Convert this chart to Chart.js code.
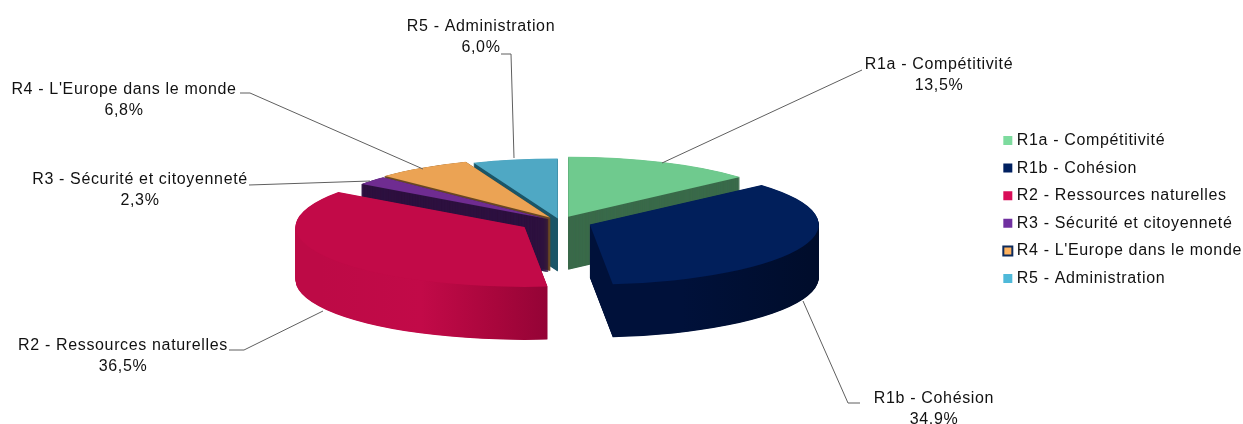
<!DOCTYPE html>
<html>
<head>
<meta charset="utf-8">
<script src="https://cdn.jsdelivr.net/npm/chart.js@4"></script>
<style>
    html, body { margin: 0; padding: 0; background: #fff; }
    #wrap { width: 1243px; height: 424px; }
</style>
</head>
<body>
<div id="wrap"><canvas id="pieChart" width="1243" height="424"></canvas></div>
<script>
const categories = ['R1a - Compétitivité', 'R1b - Cohésion', 'R2 - Ressources naturelles', 'R3 - Sécurité et citoyenneté', "R4 - L'Europe dans le monde", 'R5 - Administration']
const shares = [13.5, 34.9, 36.5, 2.3, 6.8, 6.0]

const topColors = ['#6fca8e', '#011f5b', '#c20a48', '#6f2c91', '#eba354', '#4fa8c4']
const wallColors = ['#3a6a4a', '#000f30', '#a8063c', '#2e1240', '#6b4a24', '#1c5668']
const legendColors = ['#7ddb9e', '#002060', '#d90d58', '#7030a0', '#ffb35f', '#4fb9d9']

// how far each slice is pulled out of the pie
const explode = [20, 32, 41, 15.6, 18, 12]
// back slices first, the two big ones in front
const drawOrder = [5, 4, 3, 0, 2, 1]

const pieCentre = { x: 560, y: 221.5 }
const squash = 0.262
const depth = 53

// label centre, then the leader line from the text to the slice
const callouts = [
    { x: 939, y: 65, line: [[862, 70], [662, 163]] },
    { x: 934, y: 399, line: [[860, 403], [848, 403], [803, 301]] },
    { x: 123, y: 346, line: [[229, 350], [244, 350], [323, 311]] },
    { x: 140, y: 180, line: [[249, 185], [370, 181]] },
    { x: 124, y: 90, line: [[240, 93], [250, 93], [423, 169]] },
    { x: 481, y: 27, line: [[501, 54], [511, 54], [514, 158]] }
]

function wallFill(ctx, index) {
    if (index == 2) {
        let g = ctx.createLinearGradient(293, 0, 546, 0)
        g.addColorStop(0, '#bd0a46')
        g.addColorStop(0.4, '#c20a48')
        g.addColorStop(0.7, '#a8063c')
        g.addColorStop(1, '#8a0233')
        return g
    }
    if (index == 1) {
        let g = ctx.createLinearGradient(590, 0, 820, 0)
        g.addColorStop(0, '#00113a')
        g.addColorStop(0.7, '#000c28')
        g.addColorStop(1, '#001238')
        return g
    }
    return wallColors[index]
}

function drawSlice(ctx, arc, index, z, fill, border) {
    let mid = (arc.startAngle + arc.endAngle) / 2
    let saved = arc.options
    arc.options = { ...saved, backgroundColor: fill, borderColor: fill, borderWidth: border }
    ctx.save()
    ctx.translate(pieCentre.x, pieCentre.y + z)
    ctx.scale(1, squash)
    ctx.translate(Math.cos(mid) * explode[index], Math.sin(mid) * explode[index])
    ctx.translate(-arc.x, -arc.y)
    arc.draw(ctx)
    ctx.restore()
    arc.options = saved
}

const pie3d = {
    id: 'pie3d',
    // the reference text runs wider than Liberation Sans, the legend measures with this too
    beforeLayout(chart) {
        chart.ctx.letterSpacing = '0.65px'
    },
    beforeDatasetsDraw(chart) {
        let ctx = chart.ctx
        let arcs = chart.getDatasetMeta(0).data
        drawOrder.forEach(i => {
            let fill = wallFill(ctx, i)
            // thin slices go see-through near the tip without a stroke on the wall
            let border = (i == 3 || i == 4) ? 1.5 : 0
            for (let z = depth; z > 0; z -= 0.5) {
                drawSlice(ctx, arcs[i], i, z, fill, border)
            }
            drawSlice(ctx, arcs[i], i, 0, topColors[i], 0)
        })
        return false
    },
    afterDraw(chart) {
        let ctx = chart.ctx
        ctx.save()
        ctx.strokeStyle = '#5f5f5f'
        ctx.lineWidth = 1
        ctx.fillStyle = '#111'
        ctx.font = '16px "Liberation Sans"'
        ctx.textAlign = 'center'
        ctx.textBaseline = 'middle'
        callouts.forEach((c, i) => {
            ctx.beginPath()
            c.line.forEach((p, n) => n ? ctx.lineTo(p[0], p[1]) : ctx.moveTo(p[0], p[1]))
            ctx.stroke()
            ctx.fillText(categories[i], c.x, c.y)
            ctx.fillText(shares[i].toFixed(1).replace('.', ',') + '%', c.x, c.y + 21)
        })
        ctx.restore()
    }
}

new Chart(document.getElementById('pieChart'), {
    type: 'pie',
    data: {
        labels: categories,
        datasets: [{
            data: shares,
            backgroundColor: topColors,
            borderWidth: 0,
            radius: 229
        }]
    },
    plugins: [pie3d],
    options: {
        responsive: false,
        animation: false,
        events: [],
        layout: { padding: { bottom: 5, right: -9 } },
        plugins: {
            tooltip: { enabled: false },
            legend: {
                position: 'right',
                labels: {
                    color: '#111',
                    font: { family: '"Liberation Sans"', size: 16 },
                    boxWidth: 2,
                    boxHeight: 9,
                    usePointStyle: true,
                    pointStyle: 'rect',
                    padding: 11.6,
                    generateLabels(chart) {
                        return categories.map((text, i) => ({
                            text: text,
                            index: i,
                            fontColor: '#111',
                            pointStyle: 'rect',
                            fillStyle: legendColors[i],
                            strokeStyle: i == 4 ? '#0d2a5c' : legendColors[i],
                            lineWidth: i == 4 ? 2 : 0
                        }))
                    }
                }
            }
        }
    }
})
</script>
</body>
</html>
